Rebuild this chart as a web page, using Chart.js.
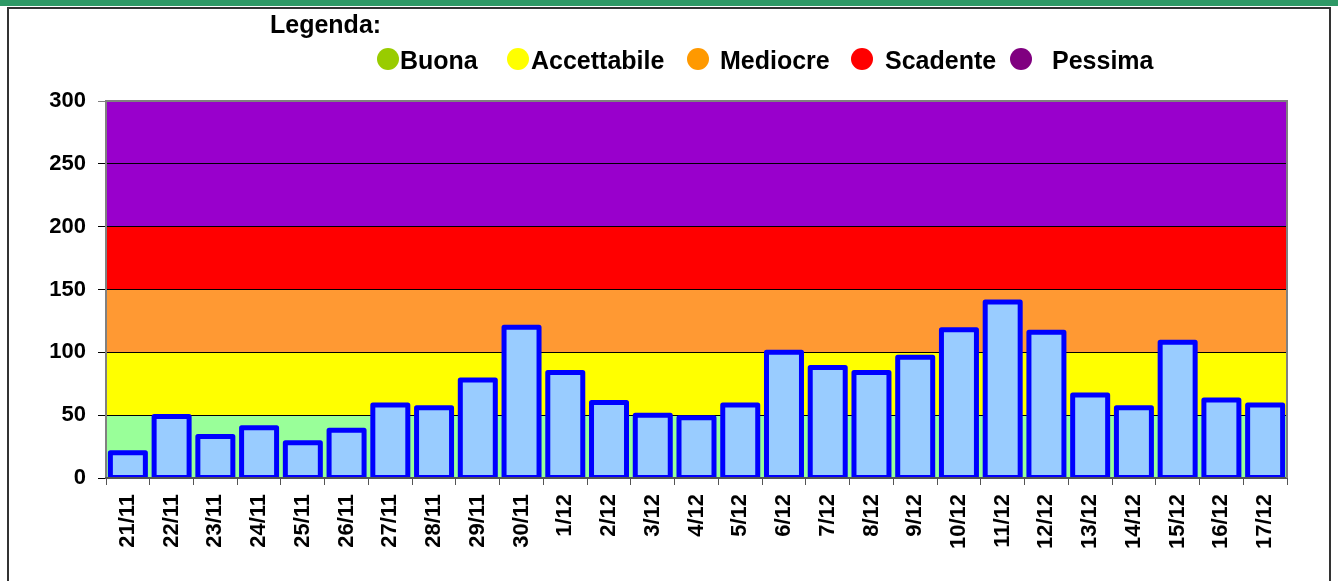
<!DOCTYPE html>
<html lang="it">
<head>
    <meta charset="UTF-8" />
    <title>Qualità dell'aria</title>
    <script src="https://cdn.jsdelivr.net/npm/chart.js"></script>
    <style>
        body { margin: 0; width: 1338px; height: 581px; overflow: hidden; background: #fff; font-family: "Liberation Sans", Arial, sans-serif; }
        #topbar { position: absolute; left: 0; top: 0; width: 1338px; height: 6px; background: #2e9966; }
        #frame { position: absolute; left: 7px; top: 7px; width: 1324px; height: 580px; border: 2px solid #333; border-bottom: none; box-sizing: border-box; }
        #wrap { position: absolute; left: 0; top: 0; width: 1338px; height: 581px; }
        .leg { position: absolute; font-weight: bold; font-size: 25px; color: #000; white-space: nowrap; line-height: 1; }
        .dot { position: absolute; width: 22px; height: 22px; border-radius: 50%; }
    </style>
</head>
<body>
<div id="topbar"></div>
<div id="frame"></div>
<div id="wrap"><canvas id="chart" width="1338" height="581"></canvas></div>
<div class="leg" style="left:270px; top:12px;">Legenda:</div>
<div id="legend"></div>

<script>
    // dati
    const days = ['21/11', '22/11', '23/11', '24/11', '25/11', '26/11', '27/11', '28/11', '29/11', '30/11',
        '1/12', '2/12', '3/12', '4/12', '5/12', '6/12', '7/12', '8/12', '9/12', '10/12',
        '11/12', '12/12', '13/12', '14/12', '15/12', '16/12', '17/12'];
    const values = [20, 49, 33, 40, 28, 38, 58, 56, 78, 120,
        84, 60, 50, 48, 58, 100, 88, 84, 96, 118,
        140, 116, 66, 56, 108, 62, 58];

    // fasce di qualità
    const bandNames = ['Buona', 'Accettabile', 'Mediocre', 'Scadente', 'Pessima'];
    const bandFrom = [0, 50, 100, 150, 200];
    const bandTo = [50, 100, 150, 200, 300];
    const bandColors = ['#99ff99', '#ffff00', '#ff9933', '#ff0000', '#9900cc'];
    const legendColors = ['#99cc00', '#ffff00', '#ff9900', '#ff0000', '#800080'];
    const yTicks = [0, 50, 100, 150, 200, 250, 300];

    // legenda in HTML
    const legendPos = [[377, 400], [507, 531], [687, 720], [851, 885], [1010, 1052]];
    const legendBox = document.getElementById('legend');
    bandNames.forEach((name, i) => {
        const d = document.createElement('div');
        d.className = 'dot';
        d.style.left = legendPos[i][0] + 'px';
        d.style.top = '48px';
        d.style.background = legendColors[i];
        legendBox.appendChild(d);
        const t = document.createElement('div');
        t.className = 'leg';
        t.style.left = legendPos[i][1] + 'px';
        t.style.top = '48px';
        t.textContent = name;
        legendBox.appendChild(t);
    });

    const bandsPlugin = {
        id: 'bands',
        beforeDraw(chart) {
            const { ctx, chartArea, scales } = chart;
            ctx.save();
            bandFrom.forEach((from, i) => {
                const y1 = scales.y.getPixelForValue(bandTo[i]);
                const y2 = scales.y.getPixelForValue(from);
                ctx.fillStyle = bandColors[i];
                ctx.fillRect(chartArea.left, y1, chartArea.right - chartArea.left, y2 - y1);
            });
            ctx.restore();
        },
        afterDatasetsDraw(chart) {
            // bordo centrato sul contorno della barra, come in Excel
            const { ctx, chartArea } = chart;
            ctx.save();
            ctx.beginPath();
            ctx.rect(0, 0, chart.width, chartArea.bottom);
            ctx.clip();
            ctx.strokeStyle = '#0000ff';
            ctx.lineWidth = 5;
            ctx.lineJoin = 'round';
            chart.getDatasetMeta(0).data.forEach(bar => {
                ctx.strokeRect(bar.x - bar.width / 2, bar.y, bar.width, bar.base - bar.y);
            });
            ctx.restore();
        },
        afterDraw(chart) {
            const { ctx, chartArea } = chart;
            ctx.save();
            ctx.strokeStyle = '#808080';
            ctx.lineWidth = 2;
            ctx.beginPath();
            ctx.moveTo(chartArea.left, chartArea.top);
            ctx.lineTo(chartArea.right, chartArea.top);
            ctx.lineTo(chartArea.right, chartArea.bottom);
            ctx.stroke();
            ctx.restore();
        }
    };

    Chart.defaults.font.family = '"Liberation Sans", Arial, sans-serif';
    Chart.defaults.color = '#000';

    new Chart(document.getElementById('chart'), {
        type: 'bar',
        data: {
            labels: days,
            datasets: [{
                data: values,
                backgroundColor: '#99ccff',
                borderWidth: 0,
                barPercentage: 0.8,
                categoryPercentage: 1.0
            }]
        },
        options: {
            responsive: false,
            animation: false,
            layout: { padding: { left: 0, right: 51, top: 101, bottom: 0 } },
            plugins: { legend: { display: false }, tooltip: { enabled: false } },
            scales: {
                x: {
                    afterFit(scale) { scale.height = 103; },
                    grid: { drawOnChartArea: false, color: '#555', tickLength: 7, offset: true },
                    border: { color: '#555', width: 2, z: 1 },
                    ticks: {
                        font: { size: 22, weight: 'bold' },
                        maxRotation: 90, minRotation: 90,
                        padding: 9, autoSkip: false
                    }
                },
                y: {
                    min: 0, max: 300,
                    afterFit(scale) { scale.width = 106; },
                    afterBuildTicks(scale) { scale.ticks = yTicks.map(v => ({ value: v })); },
                    grid: {
                        color: ctx => (ctx.tick && ctx.tick.value === 300) ? '#808080' : '#000',
                        tickLength: 8,
                        drawTicks: true
                    },
                    border: { color: '#808080', width: 2 },
                    ticks: { font: { size: 22, weight: 'bold' }, padding: 12 }
                }
            }
        },
        plugins: [bandsPlugin]
    });
</script>
</body>
</html>
